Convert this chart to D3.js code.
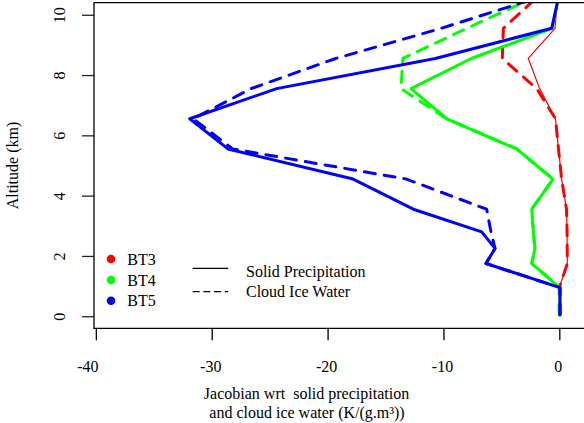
<!DOCTYPE html>
<html>
<head>
<meta charset="utf-8">
<script src="https://cdn.jsdelivr.net/npm/d3@7"></script>
<style>
  html, body { margin: 0; padding: 0; background: #fff; }
  svg { display: block; font-family: "Liberation Serif", "Times New Roman", serif; }
</style>
</head>
<body>
<svg id="chart" width="584" height="423"></svg>
<script>
// ---- data ----
const altitude = [0.05, 0.95, 1.75, 2.25, 2.8, 3.55, 4.55, 5.55, 6.55, 7.55, 8.55, 9.55, 10.55];

const bt3Solid  = [0.00, 0.00, 0.69, 0.68, 0.67, 0.62, 0.20, -0.07, -0.33, -1.70, -2.68, -0.37, -0.15];
const bt3Cloud  = [0.00, 0.00, 0.69, 0.68, 0.67, 0.62, 0.20, -0.07, -0.33, -1.95, -4.92, -4.83, -2.00];
const bt4Solid  = [0.03, 0.03, -2.38, -2.10, -2.24, -2.38, -0.55, -3.68, -9.72, -12.80, -7.60, -0.60, -0.10];
const bt4Cloud  = [0.03, 0.03, -2.38, -2.10, -2.24, -2.38, -0.55, -3.68, -9.72, -13.66, -13.50, -8.00, -2.30];
const bt5Solid  = [0.06, 0.06, -6.33, -5.55, -6.70, -12.60, -17.80, -28.60, -31.90, -24.40, -10.70, -0.66, -0.08];
const bt5Cloud  = [0.06, 0.06, -6.33, -5.55, -5.90, -6.27, -13.20, -28.20, -31.60, -26.60, -19.30, -10.20, -2.00];

const xTicks = [-40, -30, -20, -10, 0];
const yTicks = [0, 2, 4, 6, 8, 10];

const channels = ["BT3", "BT4", "BT5"];
const channelColors = ["#ff0000", "#00ff00", "#0000ff"];
const lineTypes = ["Solid Precipitation", "Cloud Ice Water"];

const series = [
  { name: "BT3", type: "solid", values: bt3Solid,  color: "#ff0000", width: 1.2 },
  { name: "BT3", type: "dash",  values: bt3Cloud,  color: "#ff0000", width: 3 },
  { name: "BT4", type: "solid", values: bt4Solid,  color: "#00ff00", width: 3 },
  { name: "BT4", type: "dash",  values: bt4Cloud,  color: "#00ff00", width: 3 },
  { name: "BT5", type: "solid", values: bt5Solid,  color: "#0000ff", width: 3 },
  { name: "BT5", type: "dash",  values: bt5Cloud,  color: "#0000ff", width: 3 }
];

// ---- layout ----
const svg = d3.select("#chart");
const pLeft = 94, pRight = 584, pTop = 2.7, pBottom = 328.3;

const x = d3.scaleLinear().domain([-40.16, 2.13]).range([pLeft, pRight]);
const y = d3.scaleLinear().domain([-0.4, 10.4]).range([pBottom, pTop]);

svg.append("defs").append("clipPath").attr("id", "plotclip")
  .append("rect").attr("x", pLeft).attr("y", pTop).attr("width", pRight - pLeft).attr("height", pBottom - pTop);

// ---- lines ----
const line = d3.line().x(d => x(d[0])).y(d => y(d[1]));
const g = svg.append("g").attr("clip-path", "url(#plotclip)");
series.forEach(s => {
  const pts = s.values.map((v, i) => [v, altitude[i]]);
  g.append("path")
    .attr("d", line(pts))
    .attr("fill", "none")
    .attr("stroke", s.color)
    .attr("stroke-width", s.width)
    .attr("stroke-linejoin", "round")
    .attr("stroke-linecap", "round")
    .attr("stroke-dasharray", s.type === "dash" ? "11,9" : null);
});

// ---- frame (left, top, bottom) ----
svg.append("path")
  .attr("d", `M${pRight},${pTop}H${pLeft}V${pBottom}H${pRight}`)
  .attr("fill", "none").attr("stroke", "#000").attr("stroke-width", 1.3);

// ---- axes ----
const xAxis = svg.append("g").attr("transform", `translate(0,${pBottom})`)
  .call(d3.axisBottom(x).tickValues(xTicks).tickSize(12).tickFormat(d => String(d)));
xAxis.select(".domain").remove();
xAxis.selectAll("line").attr("stroke", "#000").attr("stroke-width", 1.3);
xAxis.selectAll("text")
  .attr("y", 43.4).attr("dy", null)
  .attr("dx", d => d === -40 ? -8.5 : -1.5)
  .attr("fill", "#000")
  .style("font-family", "Liberation Serif").style("font-size", "16px");

const yAxis = svg.append("g").attr("transform", `translate(${pLeft},0)`)
  .call(d3.axisLeft(y).tickValues(yTicks).tickSize(12).tickFormat(d => String(d)));
yAxis.select(".domain").remove();
yAxis.selectAll("line").attr("stroke", "#222").attr("stroke-width", 1.3);
yAxis.selectAll("text")
  .attr("transform", "rotate(-90)")
  .attr("x", 0).attr("y", -29).attr("dy", null).attr("dx", null)
  .attr("text-anchor", "middle")
  .attr("fill", "#000")
  .style("font-family", "Liberation Serif").style("font-size", "16px");

// ---- axis titles ----
svg.append("text")
  .attr("transform", `translate(18,${(pTop + pBottom) / 2}) rotate(-90)`)
  .attr("text-anchor", "middle").attr("font-size", 16)
  .text("Altitude (km)");

svg.append("text")
  .attr("x", 306.5).attr("y", 399).attr("text-anchor", "middle").attr("font-size", 16)
  .style("white-space", "pre")
  .text("Jacobian wrt  solid precipitation");
svg.append("text")
  .attr("x", 307).attr("y", 418.3).attr("text-anchor", "middle").attr("font-size", 16)
  .text("and cloud ice water (K/(g.m³))");

// ---- legends ----
const legA = svg.append("g");
channels.forEach((c, i) => {
  const cy = [259, 280, 300.7][i];
  legA.append("circle").attr("cx", 111).attr("cy", cy).attr("r", 4.3).attr("fill", channelColors[i]);
  legA.append("text").attr("x", 127.3).attr("y", cy + 5.6).attr("font-size", 16).text(c);
});

const legB = svg.append("g");
lineTypes.forEach((t, i) => {
  const ly = [268.3, 291.7][i];
  legB.append("line")
    .attr("x1", 192.7).attr("x2", 228.3).attr("y1", ly).attr("y2", ly)
    .attr("stroke", "#000").attr("stroke-width", 1.2)
    .attr("stroke-dasharray", i === 1 ? "7,3.7" : null);
  legB.append("text").attr("x", 246).attr("y", [276.7, 297.3][i]).attr("font-size", 16).text(t);
});
</script>
</body>
</html>
